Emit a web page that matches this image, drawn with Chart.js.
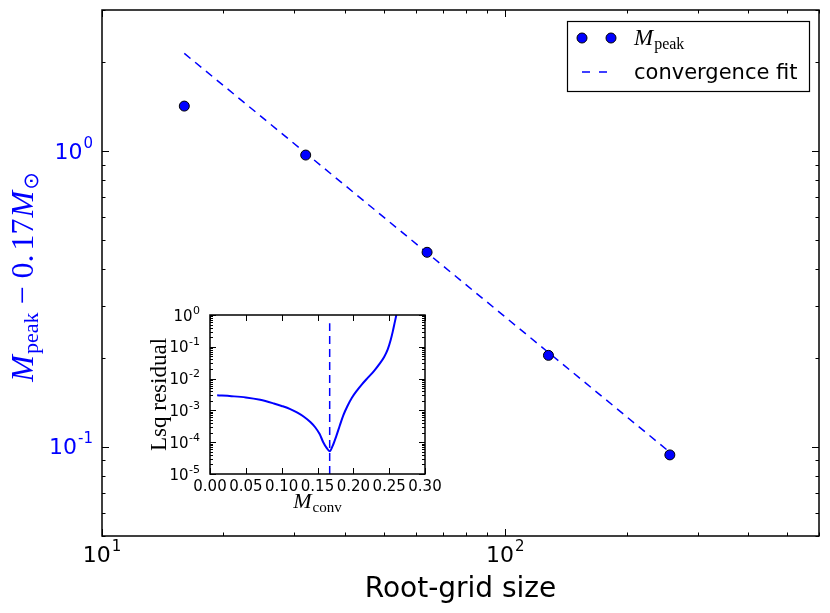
<!DOCTYPE html>
<html>
<head>
<meta charset="utf-8">
<script src="https://cdn.jsdelivr.net/npm/chart.js@4.4.1/dist/chart.umd.min.js"></script>
<style>
  html, body { margin: 0; padding: 0; background: #fff; }
  #wrap { position: relative; width: 830px; height: 613px; }
  #main { position: absolute; left: 0; top: 0; }
  #inset { position: absolute; left: 130px; top: 295px; }
</style>
</head>
<body>
<div id="wrap">
  <canvas id="main" width="830" height="613"></canvas>
  <canvas id="inset" width="320" height="225"></canvas>
</div>
<script>
// main panel: peak mass above 0.17 Msun against root-grid size
const gridSizes = [16, 32, 64, 128, 256];
const peakMass = [1.42, 0.97, 0.455, 0.204, 0.094];
const fitSizes = [16, 256];
const fitMass = [2.14, 0.096];

const xMajorTicks = [10, 100];
const xTickExponents = ['1', '2'];
const yMajorTicks = [0.1, 1];
const yTickExponents = ['-1', '0'];

// inset: least-squares residual against convergence mass
const convMass = [0.010, 0.030, 0.050, 0.070, 0.089, 0.100, 0.112, 0.122, 0.131, 0.140,
                  0.147, 0.153, 0.158, 0.163, 0.167, 0.171, 0.176, 0.181, 0.186, 0.192,
                  0.198, 0.205, 0.212, 0.220, 0.229, 0.236, 0.243, 0.248, 0.252, 0.255,
                  0.258, 0.260];
const lsqResidual = [3.0e-3, 2.8e-3, 2.55e-3, 2.15e-3, 1.65e-3, 1.38e-3, 1.1e-3, 8.5e-4, 6.3e-4, 4.3e-4,
                     2.9e-4, 1.8e-4, 1.0e-4, 6.5e-5, 5.2e-5, 7.5e-5, 1.5e-4, 3.3e-4, 7.0e-4, 1.4e-3,
                     2.5e-3, 4.2e-3, 6.6e-3, 1.05e-2, 1.75e-2, 2.8e-2, 4.8e-2, 8.3e-2, 0.16, 0.30,
                     0.62, 1.0];
const bestConv = 0.167;
const bestConvSpan = [1e-5, 0.55];

const convTicks = [0, 0.05, 0.10, 0.15, 0.20, 0.25, 0.30];
const convTickLabels = ['0.00', '0.05', '0.10', '0.15', '0.20', '0.25', '0.30'];
const residTicks = [1e-5, 1e-4, 1e-3, 1e-2, 1e-1, 1];
const residTickExponents = ['-5', '-4', '-3', '-2', '-1', '0'];

const BLUE = '#0000ff';
const SANS = '"DejaVu Sans"';
const SERIF = '"Liberation Serif"';

// minor ticks at 2..9 of each decade inside [lo, hi]
function logMinors(lo, hi) {
  const out = [];
  for (let e = Math.floor(Math.log10(lo)); e <= Math.ceil(Math.log10(hi)); e++) {
    for (let m = 2; m <= 9; m++) {
      const v = m * Math.pow(10, e);
      if (v >= lo * 0.999 && v <= hi * 1.001) out.push(v);
    }
  }
  return out;
}

function drawFrameAndTicks(ctx, chart, xMaj, xMin, yMaj, yMin, majLen, minLen, lw) {
  const a = chart.chartArea, xs = chart.scales.x, ys = chart.scales.y;
  ctx.save();
  ctx.strokeStyle = '#000';
  ctx.lineWidth = 1;
  ctx.beginPath();
  const tx = (vals, len) => vals.forEach(v => {
    const p = Math.round(xs.getPixelForValue(v)) + 0.5;
    ctx.moveTo(p, a.bottom); ctx.lineTo(p, a.bottom - len);
    ctx.moveTo(p, a.top); ctx.lineTo(p, a.top + len);
  });
  const ty = (vals, len) => vals.forEach(v => {
    const p = Math.round(ys.getPixelForValue(v)) + 0.5;
    ctx.moveTo(a.left, p); ctx.lineTo(a.left + len, p);
    ctx.moveTo(a.right, p); ctx.lineTo(a.right - len, p);
  });
  tx(xMaj, majLen); tx(xMin, minLen); ty(yMaj, majLen); ty(yMin, minLen);
  ctx.stroke();
  ctx.lineWidth = lw;
  ctx.strokeRect(a.left, a.top, a.right - a.left, a.bottom - a.top);
  ctx.restore();
}

// draws a run of text pieces: centred on x, ending at x ('right') or starting at x ('left')
function drawPieces(ctx, pieces, x, y, align) {
  let w = 0;
  pieces.forEach(p => { ctx.font = p.font; p.w = ctx.measureText(p.t).width; w += p.w + (p.gap || 0); });
  let cx = align === 'right' ? x - w : align === 'left' ? x : x - w / 2;
  ctx.textAlign = 'left';
  ctx.textBaseline = 'alphabetic';
  pieces.forEach(p => {
    cx += p.gap || 0;
    ctx.font = p.font;
    ctx.fillText(p.t, cx, y + (p.dy || 0));
    cx += p.w;
  });
}

const mainDecor = {
  id: 'mainDecor',
  afterDraw(chart) {
    const ctx = chart.ctx, a = chart.chartArea;
    const xs = chart.scales.x, ys = chart.scales.y;
    drawFrameAndTicks(ctx, chart, xMajorTicks, logMinors(10, 600), yMajorTicks, logMinors(0.05, 3), 7, 3.5, 1.5);

    ctx.save();
    ctx.fillStyle = '#000';
    xMajorTicks.forEach((v, i) => {
      drawPieces(ctx, [
        { t: '10', font: '22px ' + SANS },
        { t: xTickExponents[i], font: '15px ' + SANS, dy: -11, gap: 1 }
      ], xs.getPixelForValue(v), a.bottom + 26, 'center');
    });
    ctx.fillStyle = BLUE;
    yMajorTicks.forEach((v, i) => {
      drawPieces(ctx, [
        { t: '10', font: '22px ' + SANS },
        { t: yTickExponents[i], font: '15px ' + SANS, dy: -11, gap: 1 }
      ], 93, ys.getPixelForValue(v) + 7.5, 'right');
    });

    // axis titles
    ctx.fillStyle = '#000';
    ctx.font = '28px ' + SANS;
    ctx.textAlign = 'center';
    ctx.fillText('Root-grid size', (a.left + a.right) / 2, 597);

    ctx.save();
    ctx.translate(33, (a.top + a.bottom) / 2 + 4);
    ctx.rotate(-Math.PI / 2);
    ctx.fillStyle = BLUE;
    drawPieces(ctx, [
      { t: 'M', font: 'italic 32px ' + SERIF },
      { t: 'peak', font: '22px ' + SERIF, dy: 5, gap: 1 },
      { t: ' \u2212 ', font: '32px ' + SERIF },
      { t: '0.', font: '32px ' + SERIF },
      { t: '17', font: '32px ' + SERIF, gap: 4 },
      { t: 'M', font: 'italic 32px ' + SERIF, gap: 1 },
      { t: '\u2299', font: '21px ' + SANS, dy: 5, gap: 1 }
    ], 0, 0, 'center');
    ctx.restore();

    // legend
    ctx.fillStyle = '#fff';
    ctx.fillRect(567, 21, 242, 70);
    ctx.strokeStyle = '#000';
    ctx.lineWidth = 1.2;
    ctx.strokeRect(567.5, 21.5, 242, 70);
    [582, 611].forEach(px => {
      ctx.beginPath();
      ctx.arc(px, 38, 5, 0, Math.PI * 2);
      ctx.fillStyle = BLUE; ctx.fill();
      ctx.lineWidth = 1; ctx.strokeStyle = '#000'; ctx.stroke();
    });
    ctx.fillStyle = '#000';
    drawPieces(ctx, [
      { t: 'M', font: 'italic 23px ' + SERIF },
      { t: 'peak', font: '16px ' + SERIF, dy: 4, gap: 1 }
    ], 634, 45, 'left');
    ctx.strokeStyle = BLUE;
    ctx.lineWidth = 1.5;
    ctx.setLineDash([8, 9]);
    ctx.beginPath(); ctx.moveTo(582, 72); ctx.lineTo(608, 72); ctx.stroke();
    ctx.setLineDash([]);
    ctx.fillStyle = '#000';
    ctx.font = '21px ' + SANS;
    ctx.textAlign = 'left';
    ctx.fillText('convergence fit', 634, 79);
    ctx.restore();
  }
};

new Chart(document.getElementById('main'), {
  type: 'scatter',
  data: {
    datasets: [
      {
        label: 'convergence fit',
        data: fitSizes.map((x, i) => ({ x: x, y: fitMass[i] })),
        showLine: true,
        borderColor: BLUE,
        borderWidth: 1.5,
        borderDash: [8, 6],
        pointRadius: 0,
        fill: false,
        order: 2
      },
      {
        label: 'M_peak',
        data: gridSizes.map((x, i) => ({ x: x, y: peakMass[i] })),
        showLine: false,
        pointRadius: 5,
        pointBackgroundColor: BLUE,
        pointBorderColor: '#000',
        pointBorderWidth: 1,
        order: 1
      }
    ]
  },
  options: {
    responsive: false,
    animation: false,
    devicePixelRatio: 1,
    layout: { padding: { left: 0, top: 10, right: 11, bottom: 0 } },
    plugins: { legend: { display: false }, tooltip: { enabled: false } },
    scales: {
      x: {
        type: 'logarithmic', min: 10, max: 600,
        ticks: { display: false }, grid: { display: false }, border: { display: false },
        afterFit(s) { s.height = 77; }
      },
      y: {
        type: 'logarithmic', min: 0.05, max: 3,
        ticks: { display: false }, grid: { display: false }, border: { display: false },
        afterFit(s) { s.width = 102; }
      }
    }
  },
  plugins: [mainDecor]
});

const insetDecor = {
  id: 'insetDecor',
  beforeDraw(chart) {
    const ctx = chart.ctx, a = chart.chartArea;
    ctx.save();
    ctx.fillStyle = '#fff';
    ctx.fillRect(a.left, a.top, a.right - a.left, a.bottom - a.top);
    ctx.restore();
  },
  afterDraw(chart) {
    const ctx = chart.ctx, a = chart.chartArea;
    const xs = chart.scales.x, ys = chart.scales.y;
    drawFrameAndTicks(ctx, chart, convTicks, [], residTicks, logMinors(1e-5, 1), 6, 3, 1.5);
    ctx.save();
    ctx.fillStyle = '#000';
    ctx.font = '15px ' + SANS;
    ctx.textAlign = 'center';
    ctx.textBaseline = 'alphabetic';
    convTicks.forEach((v, i) => ctx.fillText(convTickLabels[i], xs.getPixelForValue(v), a.bottom + 17));
    residTicks.forEach((v, i) => {
      drawPieces(ctx, [
        { t: '10', font: '15px ' + SANS },
        { t: residTickExponents[i], font: '11px ' + SANS, dy: -7, gap: 0.5 }
      ], 70, ys.getPixelForValue(v) + 5.5, 'right');
    });
    drawPieces(ctx, [
      { t: 'M', font: 'italic 22px ' + SERIF },
      { t: 'conv', font: '15px ' + SERIF, dy: 4, gap: 1 }
    ], (a.left + a.right) / 2, 212.5, 'center');
    ctx.translate(36, (a.top + a.bottom) / 2);
    ctx.rotate(-Math.PI / 2);
    ctx.font = '23px ' + SERIF;
    ctx.textAlign = 'center';
    ctx.fillText('Lsq residual', 0, 0);
    ctx.restore();
  }
};

new Chart(document.getElementById('inset'), {
  type: 'scatter',
  data: {
    datasets: [
      {
        label: 'residual',
        data: convMass.map((x, i) => ({ x: x, y: lsqResidual[i] })),
        showLine: true,
        borderColor: BLUE,
        borderWidth: 2,
        cubicInterpolationMode: 'monotone',
        pointRadius: 0,
        fill: false
      },
      {
        label: 'best',
        data: bestConvSpan.map(y => ({ x: bestConv, y: y })),
        showLine: true,
        borderColor: BLUE,
        borderWidth: 1.5,
        borderDash: [8, 5],
        pointRadius: 0,
        fill: false
      }
    ]
  },
  options: {
    responsive: false,
    animation: false,
    devicePixelRatio: 1,
    layout: { padding: { left: 0, top: 20, right: 25, bottom: 0 } },
    plugins: { legend: { display: false }, tooltip: { enabled: false } },
    scales: {
      x: {
        type: 'linear', min: 0, max: 0.3,
        ticks: { display: false }, grid: { display: false }, border: { display: false },
        afterFit(s) { s.height = 46; }
      },
      y: {
        type: 'logarithmic', min: 1e-5, max: 1,
        ticks: { display: false }, grid: { display: false }, border: { display: false },
        afterFit(s) { s.width = 80; }
      }
    }
  },
  plugins: [insetDecor]
});
</script>
</body>
</html>
